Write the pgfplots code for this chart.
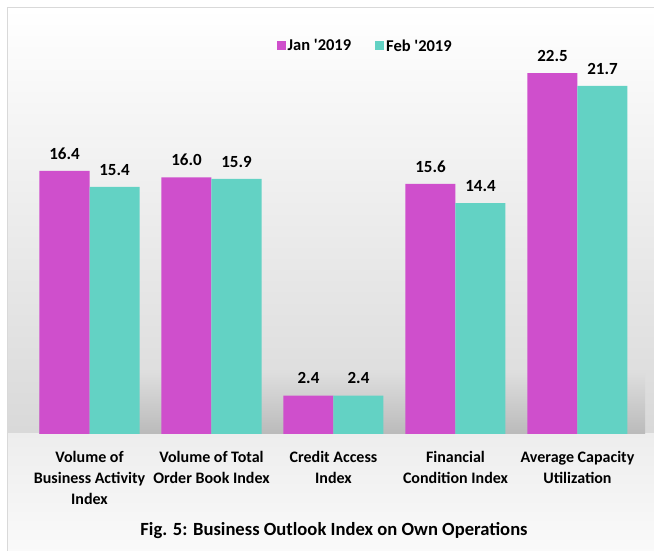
\documentclass[border=0pt]{standalone}
\usepackage{pgfplots}
\pgfplotsset{compat=1.18}
\usepackage{fontspec}
\setmainfont{Carlito}
\definecolor{janc}{HTML}{CF4FCC}
\definecolor{febc}{HTML}{63D2C4}
\begin{document}
\begin{tikzpicture}[x=1pt,y=1pt]
\useasboundingbox (0,0) rectangle (654,551);
\fill[white] (0,0) rectangle (654,551);
\shade[top color=white, bottom color=black!15] (7,117) rectangle (656,543);
\shade[top color=black!7, bottom color=black!2] (7,-1) rectangle (656,117);
\draw[black!15, line width=1pt] (7,-2) -- (7,543) -- (656,543);
\shade[top color=black!13, bottom color=black!27] (39,117) rectangle (645,179);
\begin{axis}[
  at={(28.5pt,117pt)}, anchor=south west,
  scale only axis, width=610pt, height=401pt,
  ybar=0pt, bar width=50pt,
  ymin=0, ymax=25, xmin=-0.5, xmax=4.5,
  axis line style={draw=none},
  ytick=\empty, xtick={0,1,2,3,4},
  xticklabels={{Volume of\\Business Activity\\Index},{Volume of Total\\Order Book Index},{Credit Access\\Index},{Financial\\Condition Index},{Average Capacity\\Utilization}},
  major tick length=0pt,
  xticklabel style={font=\bfseries\fontsize{16}{21}\selectfont, align=center, yshift=-14pt},
  /pgf/number format/assume math mode=true,
  nodes near coords,
  nodes near coords style={font=\bfseries\fontsize{17}{17}\selectfont, yshift=8pt, /pgf/number format/fixed, /pgf/number format/fixed zerofill, /pgf/number format/precision=1},
  clip=false,
  legend style={at={(0.552,0.9676)}, anchor=center, draw=none, fill=none, legend columns=2,
    font=\bfseries\fontsize{16.5}{16.5}\selectfont,
    /tikz/every even column/.append style={column sep=22pt}},
]
\addplot[fill=janc, draw=none, legend image code/.code={\fill[janc] (0pt,-4.5pt) rectangle (9pt,4.5pt);}] coordinates {(0,16.4) (1,16.0) (2,2.4) (3,15.6) (4,22.5)};
\addplot[fill=febc, draw=none, legend image code/.code={\fill[febc] (0pt,-4.5pt) rectangle (9pt,4.5pt);}] coordinates {(0,15.4) (1,15.9) (2,2.4) (3,14.4) (4,21.7)};
\legend{Jan \textquotesingle 2019, Feb \textquotesingle 2019}
\end{axis}
\node[font=\bfseries\fontsize{18.6}{18.6}\selectfont] at (334,20) {Fig. 5: Business Outlook Index on Own Operations};
\end{tikzpicture}
\end{document}
